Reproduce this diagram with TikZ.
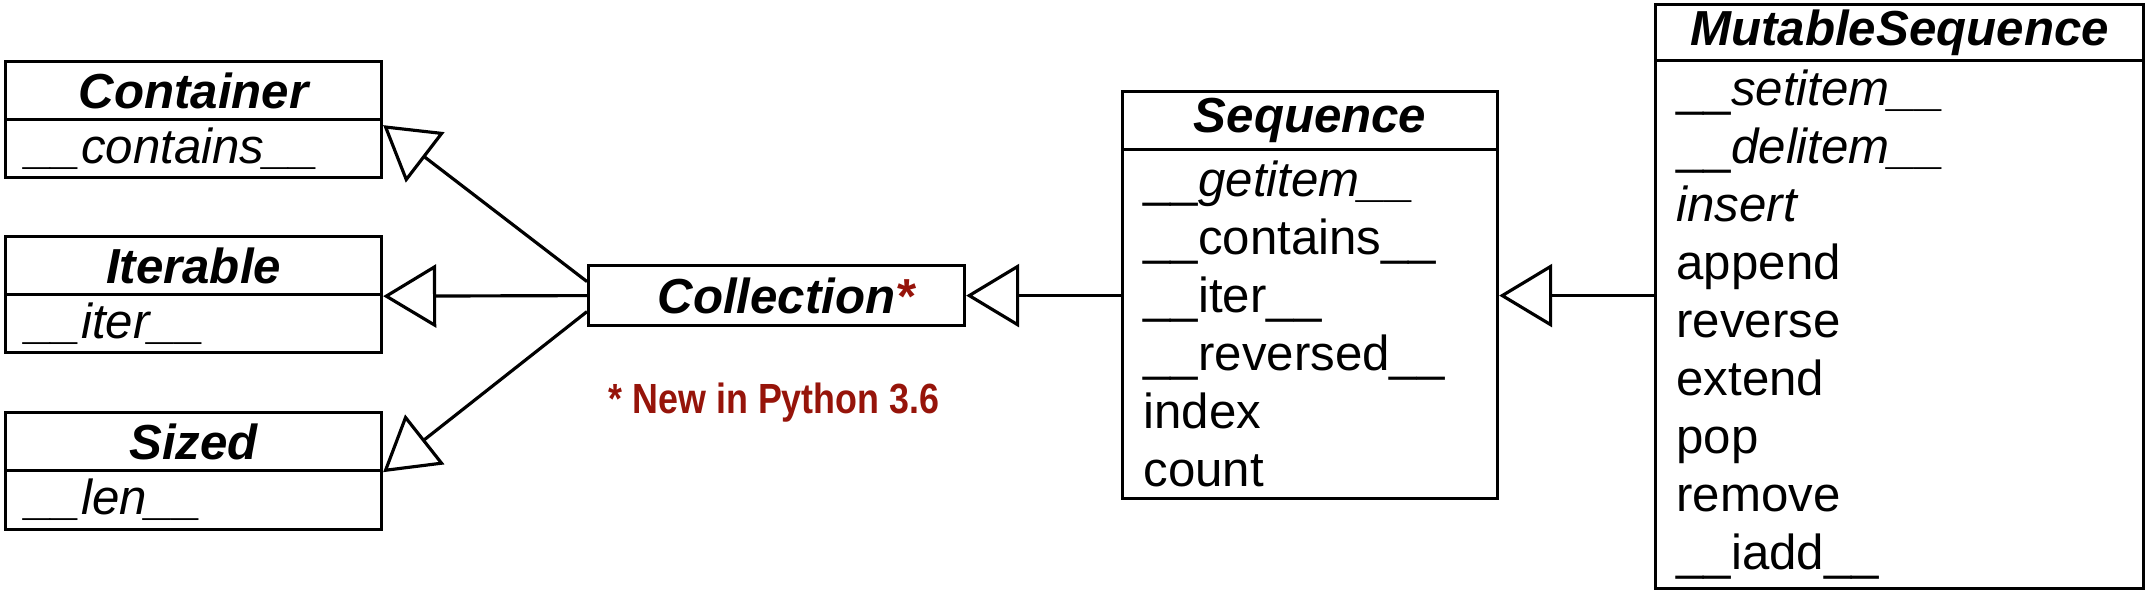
\documentclass[tikz,border=0pt]{standalone}
\usepackage{fontspec}
\setmainfont{Liberation Sans}
\newfontfamily\notefont[FakeStretch=0.85]{Liberation Sans}
\usetikzlibrary{arrows.meta}
\definecolor{notered}{RGB}{150,20,10}

\begin{document}
\begin{tikzpicture}
    \useasboundingbox (0,0) rectangle (21.46,-5.92);

    \tikzstyle{tnode} = [draw, line width=0.9pt, rectangle, anchor=north west, inner sep=0pt, minimum height=0.58cm, font=\fontsize{14pt}{16.5pt}\selectfont\bfseries\itshape]
    \tikzstyle{mnode} = [draw, line width=0.9pt, rectangle, anchor=north west, inner xsep=0.21cm, inner ysep=0pt, align=left, font=\fontsize{14pt}{16.5pt}\selectfont]
    \tikzstyle{inherit} = [line width=0.9pt, -{Triangle[length=0.53cm, width=0.63cm, fill=white, line width=0.9pt]}]

    % left column
    \node[tnode, minimum width=3.76cm] (cont) at (0.04,-0.60) {Container};
    \node[mnode, text width=3.34cm, minimum height=0.58cm] (cont-m) at (0.04,-1.18) {\textit{\_\_contains\_\_}};

    \node[tnode, minimum width=3.76cm] (iter) at (0.04,-2.35) {Iterable};
    \node[mnode, text width=3.34cm, minimum height=0.58cm] (iter-m) at (0.04,-2.93) {\textit{\_\_iter\_\_}};

    \node[tnode, minimum width=3.76cm] (sized) at (0.04,-4.11) {Sized};
    \node[mnode, text width=3.34cm, minimum height=0.59cm] (sized-m) at (0.04,-4.69) {\textit{\_\_len\_\_}};

    % middle
    \node[tnode, minimum width=3.76cm, minimum height=0.60cm] (coll) at (5.87,-2.64) {Collection\rlap{\textcolor{notered}{*}}};
    \node[anchor=base, inner sep=0pt, text=notered, font=\notefont\bfseries\fontsize{12pt}{14pt}\selectfont] (note) at (7.74,-4.13) {* New in Python 3.6};

    \node[tnode, minimum width=3.75cm] (seq) at (11.21,-0.90) {Sequence};
    \node[mnode, text width=3.33cm, minimum height=3.49cm] (seq-m) at (11.21,-1.48) {\_\_\textit{getitem\_\_}\\ \_\_contains\_\_\\ \_\_iter\_\_\\ \_\_reversed\_\_\\ index\\ count};

    % right
    \node[tnode, minimum width=4.88cm, minimum height=0.56cm] (mseq) at (16.54,-0.03) {MutableSequence};
    \node[mnode, text width=4.46cm, minimum height=5.28cm] (mseq-m) at (16.54,-0.59) {\_\_\textit{setitem\_\_}\\ \_\_\textit{delitem\_\_}\\ \textit{insert}\\ append\\ reverse\\ extend\\ pop\\ remove\\ \_\_iadd\_\_};

    % edges to the one-method classes
    \draw[inherit] ([yshift=0.14cm]coll.west) -- ([yshift=-0.04cm]cont.south east);
    \draw[inherit] (coll.west) -- (iter.south east);
    \draw[inherit] ([yshift=-0.16cm]coll.west) -- (sized.south east);

    % edges along the middle row
    \draw[inherit] (seq-m.west |- coll.east) -- (coll.east);
    \draw[inherit] (mseq-m.west |- coll.east) -- (seq-m.east |- coll.east);
\end{tikzpicture}
\end{document}
